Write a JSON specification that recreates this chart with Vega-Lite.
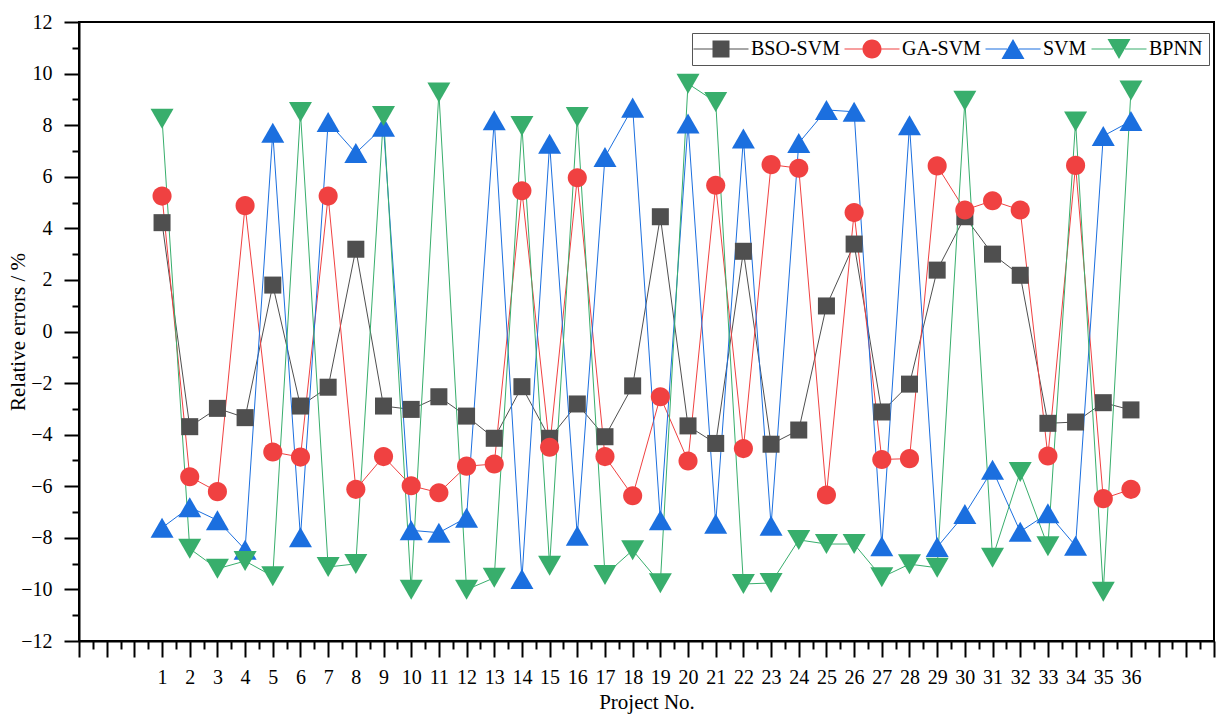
{
  "$schema": "https://vega.github.io/schema/vega-lite/v6.json",
  "width": 1135,
  "height": 619,
  "autosize": {"type": "none"},
  "padding": {"left": 79, "top": 22, "right": 2, "bottom": 74},
  "background": "white",
  "config": {
    "view": {"stroke": "black", "strokeWidth": 2},
    "font": "Liberation Serif",
    "axis": {
      "domainColor": "black", "domainWidth": 2, "tickColor": "black", "tickWidth": 2,
      "labelFont": "Liberation Serif", "labelFontSize": 20, "labelColor": "black",
      "titleFont": "Liberation Serif", "titleFontSize": 21, "titleFontWeight": "normal", "titleColor": "black",
      "grid": false
    }
  },
  "data": {"values": [
    {"p": 1, "BSO-SVM": 4.22, "GA-SVM": 5.25, "SVM": -7.61, "BPNN": 8.25},
    {"p": 2, "BSO-SVM": -3.69, "GA-SVM": -5.63, "SVM": -6.81, "BPNN": -8.42},
    {"p": 3, "BSO-SVM": -2.98, "GA-SVM": -6.21, "SVM": -7.32, "BPNN": -9.2},
    {"p": 4, "BSO-SVM": -3.34, "GA-SVM": 4.88, "SVM": -8.46, "BPNN": -8.9},
    {"p": 5, "BSO-SVM": 1.8, "GA-SVM": -4.67, "SVM": 7.71, "BPNN": -9.49},
    {"p": 6, "BSO-SVM": -2.89, "GA-SVM": -4.87, "SVM": -7.98, "BPNN": 8.51},
    {"p": 7, "BSO-SVM": -2.16, "GA-SVM": 5.25, "SVM": 8.12, "BPNN": -9.13},
    {"p": 8, "BSO-SVM": 3.19, "GA-SVM": -6.12, "SVM": 6.92, "BPNN": -9.01},
    {"p": 9, "BSO-SVM": -2.89, "GA-SVM": -4.85, "SVM": 7.94, "BPNN": 8.36},
    {"p": 10, "BSO-SVM": -3.02, "GA-SVM": -5.98, "SVM": -7.71, "BPNN": -10.01},
    {"p": 11, "BSO-SVM": -2.53, "GA-SVM": -6.25, "SVM": -7.8, "BPNN": 9.27},
    {"p": 12, "BSO-SVM": -3.28, "GA-SVM": -5.22, "SVM": -7.22, "BPNN": -10.01},
    {"p": 13, "BSO-SVM": -4.14, "GA-SVM": -5.14, "SVM": 8.19, "BPNN": -9.55},
    {"p": 14, "BSO-SVM": -2.14, "GA-SVM": 5.46, "SVM": -9.6, "BPNN": 7.97},
    {"p": 15, "BSO-SVM": -4.14, "GA-SVM": -4.49, "SVM": 7.28, "BPNN": -9.08},
    {"p": 16, "BSO-SVM": -2.81, "GA-SVM": 5.96, "SVM": -7.92, "BPNN": 8.32},
    {"p": 17, "BSO-SVM": -4.08, "GA-SVM": -4.85, "SVM": 6.77, "BPNN": -9.44},
    {"p": 18, "BSO-SVM": -2.11, "GA-SVM": -6.37, "SVM": 8.68, "BPNN": -8.48},
    {"p": 19, "BSO-SVM": 4.45, "GA-SVM": -2.53, "SVM": -7.32, "BPNN": -9.76},
    {"p": 20, "BSO-SVM": -3.66, "GA-SVM": -5.02, "SVM": 8.06, "BPNN": 9.61},
    {"p": 21, "BSO-SVM": -4.34, "GA-SVM": 5.67, "SVM": -7.45, "BPNN": 8.9},
    {"p": 22, "BSO-SVM": 3.11, "GA-SVM": -4.54, "SVM": 7.48, "BPNN": -9.79},
    {"p": 23, "BSO-SVM": -4.37, "GA-SVM": 6.47, "SVM": -7.53, "BPNN": -9.75},
    {"p": 24, "BSO-SVM": -3.82, "GA-SVM": 6.33, "SVM": 7.31, "BPNN": -8.08},
    {"p": 25, "BSO-SVM": 0.99, "GA-SVM": -6.34, "SVM": 8.59, "BPNN": -8.24},
    {"p": 26, "BSO-SVM": 3.39, "GA-SVM": 4.61, "SVM": 8.52, "BPNN": -8.24},
    {"p": 27, "BSO-SVM": -3.12, "GA-SVM": -4.96, "SVM": -8.33, "BPNN": -9.53},
    {"p": 28, "BSO-SVM": -2.04, "GA-SVM": -4.93, "SVM": 8.0, "BPNN": -9.02},
    {"p": 29, "BSO-SVM": 2.38, "GA-SVM": 6.42, "SVM": -8.36, "BPNN": -9.16},
    {"p": 30, "BSO-SVM": 4.45, "GA-SVM": 4.71, "SVM": -7.08, "BPNN": 8.95},
    {"p": 31, "BSO-SVM": 3.0, "GA-SVM": 5.07, "SVM": -5.36, "BPNN": -8.77},
    {"p": 32, "BSO-SVM": 2.18, "GA-SVM": 4.71, "SVM": -7.76, "BPNN": -5.45},
    {"p": 33, "BSO-SVM": -3.56, "GA-SVM": -4.83, "SVM": -7.05, "BPNN": -8.33},
    {"p": 34, "BSO-SVM": -3.51, "GA-SVM": 6.44, "SVM": -8.31, "BPNN": 8.14},
    {"p": 35, "BSO-SVM": -2.76, "GA-SVM": -6.48, "SVM": 7.58, "BPNN": -10.09},
    {"p": 36, "BSO-SVM": -3.04, "GA-SVM": -6.12, "SVM": 8.16, "BPNN": 9.34}
  ]},
  "transform": [{"fold": ["BSO-SVM", "GA-SVM", "SVM", "BPNN"], "as": ["m", "v"]}],
  "layer": [
    {
      "mark": {"type": "line", "strokeWidth": 1},
      "encoding": {
        "x": {
          "field": "p", "type": "quantitative",
          "scale": {"domain": [-2, 39], "nice": false, "zero": false},
          "axis": {
            "orient": "bottom",
            "values": [-2,-1,0,1,2,3,4,5,6,7,8,9,10,11,12,13,14,15,16,17,18,19,20,21,22,23,24,25,26,27,28,29,30,31,32,33,34,35,36,37,38,39],
            "tickSize": 16, "labelPadding": 10, "labelFlush": false, "labelOverlap": false,
            "labelExpr": "datum.value >= 1 && datum.value <= 36 ? datum.label : ''",
            "title": "Project No.", "titlePadding": 4
          }
        },
        "y": {
          "field": "v", "type": "quantitative",
          "scale": {"domain": [-12, 12], "nice": false, "zero": false},
          "axis": {
            "orient": "left",
            "values": [-12,-10,-8,-6,-4,-2,0,2,4,6,8,10,12],
            "tickSize": 15, "labelPadding": 12, "labelFlush": false, "labelOverlap": false,
            "title": "Relative errors / %", "titlePadding": -8
          }
        },
        "color": {
          "field": "m", "type": "nominal",
          "scale": {"domain": ["BSO-SVM", "GA-SVM", "SVM", "BPNN"], "range": ["#4f4f4f", "#f04141", "#1b6fdf", "#38ae6c"]},
          "legend": {
            "orient": "none", "legendX": 613, "legendY": 11, "direction": "horizontal",
            "title": null, "padding": 6, "strokeColor": "#555555", "fillColor": "white",
            "symbolSize": 400, "symbolOffset": 13, "labelOffset": 20, "columnPadding": 4,
            "labelFontSize": 20, "labelFont": "Liberation Serif", "labelColor": "black",
            "symbolStrokeWidth": 0,
            "encode": {
              "symbols": {
                "update": {
                  "shape": {"signal": "datum.value === 'BSO-SVM' ? 'M-2.75,-0.06H-0.85V0.06H-2.75ZM0.85,-0.06H2.75V0.06H0.85ZM-0.85,-0.85H0.85V0.85H-0.85Z' : datum.value === 'GA-SVM' ? 'M-2.75,-0.06H-0.95V0.06H-2.75ZM0.95,-0.06H2.75V0.06H0.95ZM-0.95,0A0.95,0.95,0,1,0,0.95,0A0.95,0.95,0,1,0,-0.95,0Z' : datum.value === 'SVM' ? 'M-2.75,-0.06H-0.6V0.06H-2.75ZM0.6,-0.06H2.75V0.06H0.6ZM0,-1L1.15,1L-1.15,1Z' : 'M-2.75,-0.06H-0.6V0.06H-2.75ZM0.6,-0.06H2.75V0.06H0.6ZM0,1L1.15,-1L-1.15,-1Z'"},
                  "fill": {"signal": "datum.value === 'BSO-SVM' ? '#4f4f4f' : datum.value === 'GA-SVM' ? '#f04141' : datum.value === 'SVM' ? '#1b6fdf' : '#38ae6c'"},
                  "strokeWidth": {"value": 0},
                  "opacity": {"value": 1},
                  "fillOpacity": {"value": 1},
                  "size": {"value": 400}
                }
              }
            }
          }
        }
      }
    },
    {
      "transform": [{"filter": "datum.m === 'BSO-SVM'"}],
      "mark": {"type": "point", "filled": true, "opacity": 1, "strokeWidth": 0, "size": 529, "fill": "#4f4f4f", "shape": "M-0.74,-0.74H0.74V0.74H-0.74Z"},
      "encoding": {
        "x": {
          "field": "p", "type": "quantitative",
          "scale": {"domain": [-2, 39], "nice": false, "zero": false},
          "axis": {
            "orient": "bottom",
            "values": [-1.5,-0.5,0.5,1.5,2.5,3.5,4.5,5.5,6.5,7.5,8.5,9.5,10.5,11.5,12.5,13.5,14.5,15.5,16.5,17.5,18.5,19.5,20.5,21.5,22.5,23.5,24.5,25.5,26.5,27.5,28.5,29.5,30.5,31.5,32.5,33.5,34.5,35.5,36.5,37.5,38.5],
            "tickSize": 8, "labels": false, "domain": false, "title": null
          }
        },
        "y": {
          "field": "v", "type": "quantitative",
          "scale": {"domain": [-12, 12], "nice": false, "zero": false},
          "axis": {
            "orient": "left",
            "values": [-11,-9,-7,-5,-3,-1,1,3,5,7,9,11],
            "tickSize": 7, "labels": false, "domain": false, "title": null
          }
        }
      }
    },
    {
      "transform": [{"filter": "datum.m === 'GA-SVM'"}],
      "mark": {"type": "point", "filled": true, "opacity": 1, "strokeWidth": 0, "size": 529, "fill": "#f04141", "shape": "M-0.83,0A0.83,0.83,0,1,0,0.83,0A0.83,0.83,0,1,0,-0.83,0Z"},
      "encoding": {
        "x": {"field": "p", "type": "quantitative", "scale": {"domain": [-2, 39], "nice": false, "zero": false}, "axis": null},
        "y": {"field": "v", "type": "quantitative", "scale": {"domain": [-12, 12], "nice": false, "zero": false}, "axis": null}
      }
    },
    {
      "transform": [{"filter": "datum.m === 'SVM'"}],
      "mark": {"type": "point", "filled": true, "opacity": 1, "strokeWidth": 0, "size": 529, "fill": "#1b6fdf", "shape": "M0,-0.87L1,0.87L-1,0.87Z"},
      "encoding": {
        "x": {"field": "p", "type": "quantitative", "scale": {"domain": [-2, 39], "nice": false, "zero": false}, "axis": null},
        "y": {"field": "v", "type": "quantitative", "scale": {"domain": [-12, 12], "nice": false, "zero": false}, "axis": null}
      }
    },
    {
      "transform": [{"filter": "datum.m === 'BPNN'"}],
      "mark": {"type": "point", "filled": true, "opacity": 1, "strokeWidth": 0, "size": 529, "fill": "#38ae6c", "shape": "M0,0.87L1,-0.87L-1,-0.87Z"},
      "encoding": {
        "x": {"field": "p", "type": "quantitative", "scale": {"domain": [-2, 39], "nice": false, "zero": false}, "axis": null},
        "y": {"field": "v", "type": "quantitative", "scale": {"domain": [-12, 12], "nice": false, "zero": false}, "axis": null}
      }
    }
  ],
  "resolve": {"axis": {"x": "independent", "y": "independent"}}
}
